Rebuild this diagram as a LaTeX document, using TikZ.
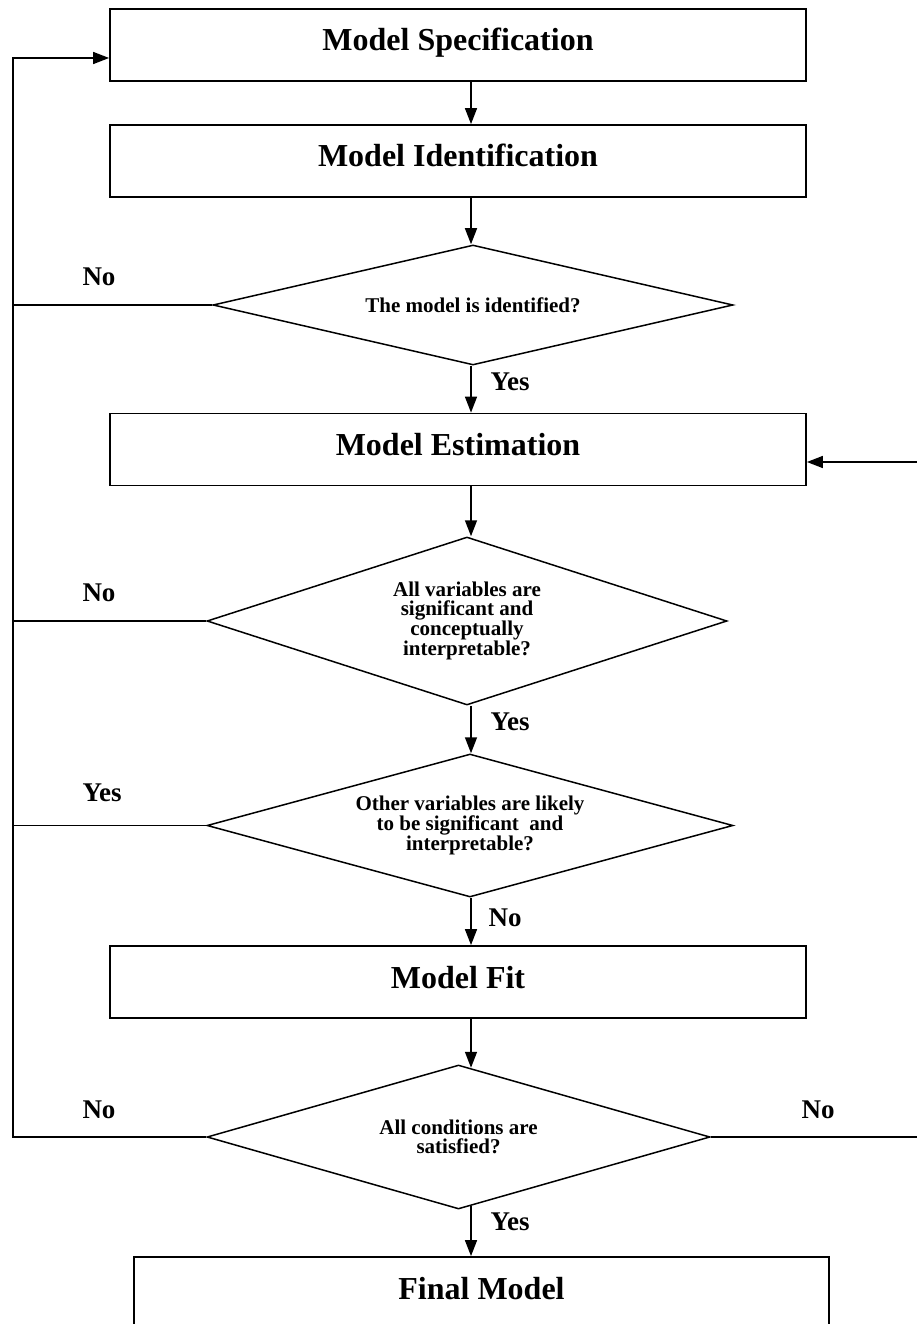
\documentclass[tikz,border=0pt]{standalone}
\usepackage{fontspec}
\setmainfont{Liberation Serif}
\usetikzlibrary{shapes.geometric,arrows.meta,calc}
\begin{document}
\begin{tikzpicture}[x=1pt,y=-1pt,
  stage/.style={draw,line width=1.8pt,minimum width=696pt,minimum height=72pt,
    inner sep=0pt,text height=22pt,text depth=10pt,
    font=\fontsize{32}{38}\selectfont\bfseries},
  test/.style={draw,shape=diamond,line width=1.5pt,inner sep=0pt,align=center,
    font=\fontsize{21}{18.5}\selectfont\bfseries},
  flow/.style={line width=1.5pt},
  arr/.style={flow,-{Triangle[length=16pt,width=12pt]}},
  answer/.style={inner sep=0pt,font=\fontsize{27}{30}\selectfont\bfseries}]
\useasboundingbox (0,0) rectangle (916,1324);

% process boxes and decisions
\node[stage] (spec) at (458,45) {Model Specification};
\node[stage] (ident) at (458,161) {Model Identification};
\node[test,minimum width=520pt,minimum height=120pt,aspect=4.3] (d1) at (473,305)
  {The model is identified?};
\node[stage] (est) at (458,449.5) {Model Estimation};
\node[test,minimum width=520pt,minimum height=168pt,aspect=3.1] (d2) at (467,621)
  {All variables are\\significant and\\conceptually\\interpretable?};
\node[test,minimum width=526pt,minimum height=143pt,aspect=3.6] (d3) at (470,825.5)
  {Other variables are likely\\to be significant\ \ and\\interpretable?};
\node[stage] (fit) at (458,982) {Model Fit};
\node[test,minimum width=503pt,minimum height=144pt,aspect=3.5] (d4) at (458.5,1137)
  {All conditions are\\satisfied?};
\node[stage,minimum width=695pt] (final) at (481.5,1293) {Final Model};

% answer labels
\node[answer] (no1) at (99,277) {No};
\node[answer] (yes1) at (510,382) {Yes};
\node[answer] (no2) at (99,593) {No};
\node[answer] (yes2) at (510,722) {Yes};
\node[answer] (yes3) at (102,793) {Yes};
\node[answer] (no3) at (505,918) {No};
\node[answer] (no4) at (99,1110) {No};
\node[answer] (no5) at (818,1110) {No};
\node[answer] (yes4) at (510,1222) {Yes};

% main column and return lines
\coordinate (col) at (471,0);
\coordinate (lx) at (13,0);
\coordinate (rx) at (921,0);
\coordinate (entry) at ($(spec.west)+(0,13)$);
\coordinate (estin) at ($(est.east)+(0,12.5)$);
\coordinate (d4top) at ($(d4.north -| col)+(0,3.5)$);
\coordinate (d4bot) at ($(d4.south -| col)+(0,-3.5)$);

\draw[arr] (spec.south -| col) -- (ident.north -| col);
\draw[arr] (ident.south -| col) -- (d1.north -| col);
\draw[arr] (d1.south -| col) -- (est.north -| col);
\draw[arr] (est.south -| col) -- (d2.north -| col);
\draw[arr] (d2.south -| col) -- (d3.north -| col);
\draw[arr] (d3.south -| col) -- (fit.north -| col);
\draw[arr] (fit.south -| col) -- (d4top);
\draw[arr] (d4bot) -- (final.north -| col);

\draw[flow] (d1.west) -- (d1.west -| lx);
\draw[flow] (d2.west) -- (d2.west -| lx);
\draw[flow] (d3.west) -- (d3.west -| lx);
\draw[arr] (d4.west) -- (d4.west -| lx) -- (lx |- entry) -- (entry);
\draw[arr] (d4.east) -- (d4.east -| rx) -- (rx |- estin) -- (estin);
\end{tikzpicture}
\end{document}
